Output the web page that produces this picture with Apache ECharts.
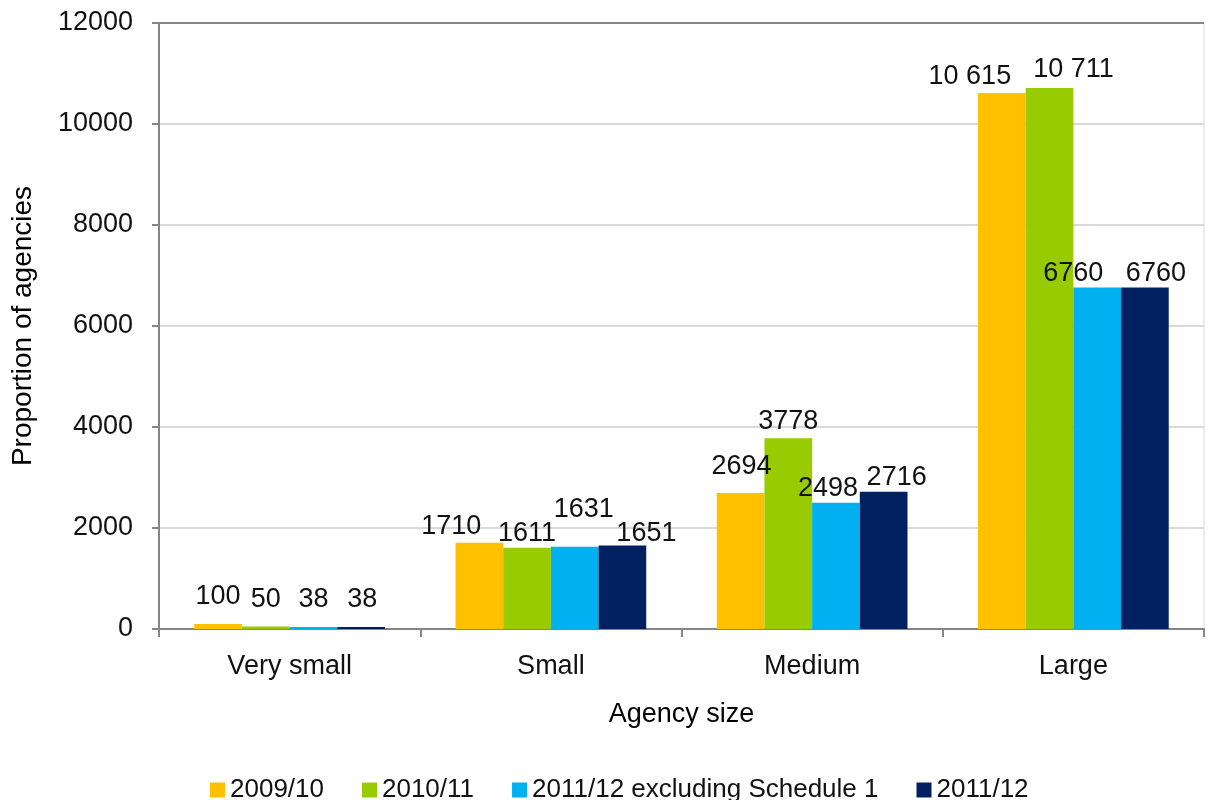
<!DOCTYPE html>
<html>
<head>
<meta charset="utf-8">
<script src="https://cdn.jsdelivr.net/npm/echarts@6/dist/echarts.min.js"></script>
<style>
  html, body { margin: 0; padding: 0; background: #fff; }
</style>
</head>
<body>
<div id="main" style="width:1208px;height:800px;"></div>
<script>
  var categories = ['Very small', 'Small', 'Medium', 'Large'];
  var seriesNames = ['2009/10', '2010/11', '2011/12 excluding Schedule 1', '2011/12'];
  var values0910 = [100, 1710, 2694, 10615];
  var values1011 = [50, 1611, 3778, 10711];
  var values1112ex = [38, 1631, 2498, 6760];
  var values1112 = [38, 1651, 2716, 6760];
  var yTicks = [0, 2000, 4000, 6000, 8000, 10000, 12000];

  var colors = ['#FFC000', '#99CC00', '#00B0F0', '#002060'];
  var font = 'Liberation Sans';
  var fs = 27;

  // label nudges (Excel moved some labels to avoid overlaps) [dx, dy] per series / category
  var labelNudge = [
    [[0, -9], [-28, 2], [1, -8], [-32, 2]],
    [[0, -8], [0, 4], [0, 2], [24, 0]],
    [[0, -9], [9, -19], [-8, 4], [-24, 4]],
    [[1, -9], [24, 6], [13, 4], [11, 4]]
  ];

  function fmt(v) {
    var s = String(v);
    if (v >= 10000) s = s.replace(/\B(?=(\d{3})+$)/g, ' ');
    return s;
  }

  var allValues = [values0910, values1011, values1112ex, values1112];

  var series = [];
  for (var i = 0; i < allValues.length; i++) {
    var items = [];
    for (var j = 0; j < allValues[i].length; j++) {
      items.push({
        value: allValues[i][j],
        label: { offset: labelNudge[i][j] }
      });
    }
    series.push({
      name: seriesNames[i],
      type: 'bar',
      barGap: '0%',
      barCategoryGap: '27%',
      itemStyle: { color: colors[i] },
      label: {
        show: true,
        position: 'top',
        distance: 5,
        color: '#111',
        fontFamily: font,
        fontSize: fs,
        formatter: function (p) { return fmt(p.value); }
      },
      data: items
    });
  }

  var chart = echarts.init(document.getElementById('main'), null, { renderer: 'canvas' });

  var splitColors = [];
  for (var k = 0; k < yTicks.length - 1; k++) splitColors.push('#d9d9d9');
  splitColors.push('#868686');

  chart.setOption({
    animation: false,
    color: colors,
    grid: {
      left: 159,
      right: 4,
      top: 23,
      bottom: 171,
      show: true,
      borderColor: '#d9d9d9',
      borderWidth: 1
    },
    legend: {
      data: seriesNames,
      left: 205,
      top: 772,
      icon: 'rect',
      itemWidth: 15,
      itemHeight: 15,
      itemGap: 38,
      textStyle: { fontFamily: font, fontSize: 26, color: '#111' }
    },
    xAxis: {
      type: 'category',
      data: categories,
      name: 'Agency size',
      nameLocation: 'middle',
      nameGap: 72,
      nameTextStyle: { fontFamily: font, fontSize: fs, color: '#000' },
      axisLine: { lineStyle: { color: '#868686', width: 2 } },
      axisTick: { show: true, length: 8, lineStyle: { color: '#868686', width: 2 } },
      axisLabel: { fontFamily: font, fontSize: fs, color: '#111', margin: 24 }
    },
    yAxis: {
      type: 'value',
      min: yTicks[0],
      max: yTicks[yTicks.length - 1],
      interval: 2000,
      name: 'Proportion of agencies',
      nameLocation: 'middle',
      nameGap: 122,
      nameTextStyle: { fontFamily: font, fontSize: 28, color: '#000' },
      axisLine: { show: true, lineStyle: { color: '#868686', width: 2 } },
      axisTick: { show: true, length: 7, lineStyle: { color: '#868686', width: 2 } },
      axisLabel: {
        fontFamily: font, fontSize: fs, color: '#111', margin: 26,
        formatter: function (v) { return String(v); }
      },
      splitLine: { lineStyle: { color: splitColors, width: 2 } }
    },
    series: series
  });
</script>
</body>
</html>
